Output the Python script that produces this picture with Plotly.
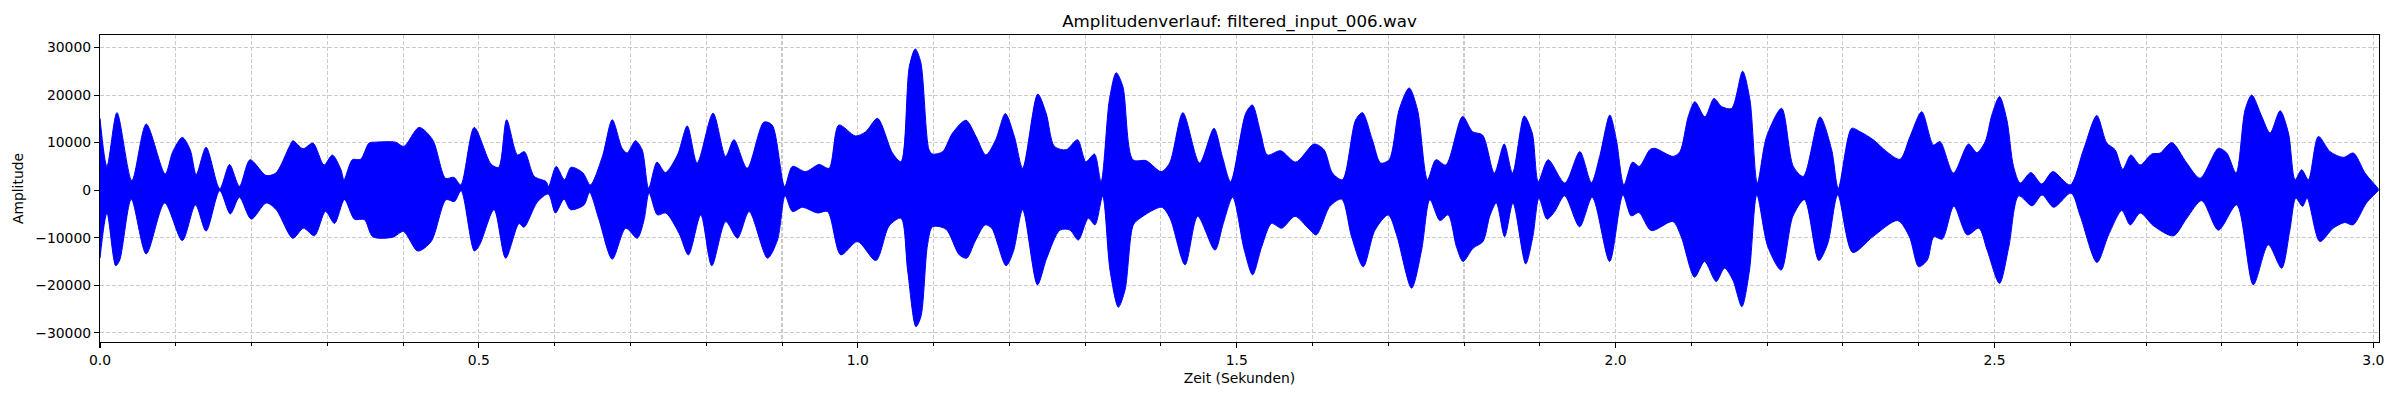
import plotly.graph_objects as go

# ---- data (envelope of the waveform) ----
upper_t = [0.000, 0.0092, 0.0224, 0.042, 0.061, 0.086, 0.096, 0.1086, 0.119, 0.127, 0.140, 0.158, 0.171, 0.184, 0.198,
           0.219, 0.232, 0.250, 0.2545, 0.268, 0.281, 0.2956, 0.3066, 0.318, 0.322, 0.333, 0.344, 0.355, 0.364, 0.390,
           0.401, 0.421, 0.439, 0.456, 0.467, 0.476, 0.4938, 0.516, 0.526, 0.5366, 0.551, 0.560, 0.573, 0.5886, 0.592,
           0.602, 0.613, 0.6216, 0.637, 0.647, 0.663, 0.676, 0.689, 0.6956, 0.7066, 0.7154, 0.724, 0.735, 0.746, 0.762,
           0.775, 0.788, 0.809, 0.8256, 0.8366, 0.854, 0.876, 0.887, 0.9035, 0.9137, 0.931, 0.949, 0.962, 0.975, 0.997,
           1.0106, 1.026, 1.0458, 1.057, 1.068, 1.0758, 1.083, 1.094, 1.0987, 1.112, 1.125, 1.1427, 1.156, 1.169, 1.182,
           1.1947, 1.2066, 1.2176, 1.2374, 1.2485, 1.2595, 1.275, 1.290, 1.301, 1.3123, 1.321, 1.332, 1.341, 1.3498,
           1.363, 1.3806, 1.4004, 1.4115, 1.429, 1.451, 1.470, 1.481, 1.492, 1.512, 1.5207, 1.5317, 1.5405, 1.558, 1.578,
           1.6021, 1.6153, 1.6263, 1.6395, 1.657, 1.666, 1.679, 1.690, 1.7012, 1.7143, 1.7276, 1.7386, 1.7518, 1.7628,
           1.776, 1.798, 1.8112, 1.8244, 1.840, 1.853, 1.864, 1.8794, 1.890, 1.898, 1.911, 1.933, 1.9528, 1.968, 1.979,
           1.9924, 2.001, 2.011, 2.0224, 2.0312, 2.0452, 2.0518, 2.076, 2.0849, 2.0959, 2.1047, 2.1179, 2.1298, 2.1399,
           2.1531, 2.1676, 2.1773, 2.187, 2.1993, 2.2191, 2.2345, 2.2477, 2.2697, 2.2851, 2.2939, 2.3115, 2.3225, 2.3401,
           2.3577, 2.3754, 2.3886, 2.404, 2.4194, 2.4282, 2.4458, 2.4657, 2.4767, 2.4877, 2.4965, 2.5066, 2.5163, 2.5251,
           2.5339, 2.548, 2.5624, 2.577, 2.5998, 2.6174, 2.635, 2.6482, 2.6592, 2.6693, 2.6799, 2.6922, 2.7076, 2.7186,
           2.734, 2.7537, 2.7713, 2.7955, 2.8065, 2.8188, 2.8307, 2.8395, 2.8527, 2.8637, 2.8769, 2.8879, 2.8967, 2.9054,
           2.9142, 2.9274, 2.9428, 2.9604, 2.9736, 2.989, 3.0066]
upper_amp = [15100, 5000, 16300, 2000, 13900, 3400, 8100, 11100, 8500, 3300, 9000, 300, 5400, 800, 6400,
             3100, 3600, 9200, 10400, 8700, 9900, 5300, 7400, 4300, 2200, 6400, 6500, 9900, 10100, 10100,
             9200, 13200, 10600, 2500, 2700, 1100, 13200, 5500, 4800, 14800, 7400, 8100, 2900, 1800, 800,
             5000, 2200, 4800, 3700, 1100, 7100, 14800, 8800, 7800, 10400, 8500, 400, 5900, 3700, 7400,
             13500, 5700, 16200, 7100, 10600, 4600, 14300, 13700, 800, 5000, 3900, 5400, 4600, 13700, 11400,
             12300, 15100, 7800, 6000, 26000, 29700, 27000, 8500, 7600, 8100, 12000, 14700, 11300, 7400, 10600,
             16100, 11300, 4600, 20200, 16200, 9200, 8500, 10600, 6000, 7600, 1800, 19000, 24700, 21800,
             6400, 6200, 3900, 5700, 16300, 5700, 13000, 7100, 1800, 16200, 17900, 12000, 7400, 8300, 5900,
             9700, 8500, 3600, 2200, 14800, 16300, 10600, 5700, 6400, 16900, 21500, 16900, 2200, 6400,
             5300, 15500, 12300, 11600, 3600, 9700, 3600, 15600, 12000, 1800, 6400, 1500, 8100, 1600, 7100,
             15800, 10600, 1100, 5900, 5000, 8500, 8800, 7100, 8100, 15500, 18600, 15400, 19300, 17600,
             17200, 25000, 19000, 1500, 11300, 17200, 5000, 2900, 15400, 8500, 400, 13000, 12300, 10600,
             8100, 6500, 11300, 16500, 9500, 10200, 3600, 9700, 7900, 10200, 15800, 19700, 14800, 5000,
             1500, 3700, 1300, 3900, 1100, 8500, 15700, 9900, 8500, 4400, 7400, 5300, 7600, 7800,
             10000, 5700, 2500, 8800, 7800, 3600, 16900, 20000, 15500, 12000, 16700, 12000, 2200, 4300,
             2200, 11300, 8100, 6900, 7800, 3600, 200]

lower_t = [0.000, 0.0092, 0.0207, 0.026, 0.0413, 0.061, 0.0853, 0.1086, 0.126, 0.140, 0.158, 0.172, 0.184, 0.1996,
           0.2193, 0.2325, 0.2545, 0.2686, 0.283, 0.2976, 0.3095, 0.3226, 0.3358, 0.349, 0.360, 0.3864, 0.4004, 0.4193,
           0.437, 0.4567, 0.4677, 0.4765, 0.494, 0.501, 0.520, 0.5353, 0.553, 0.5595, 0.5771, 0.5916, 0.601, 0.6123,
           0.621, 0.6387, 0.646, 0.6585, 0.676, 0.6938, 0.709, 0.718, 0.7246, 0.7356, 0.7466, 0.7642, 0.7765, 0.7928,
           0.8073, 0.8258, 0.8412, 0.8566, 0.8808, 0.894, 0.9041, 0.9138, 0.927, 0.9468, 0.960, 0.9776, 0.9996, 1.0238,
           1.0414, 1.0569, 1.0657, 1.0767, 1.0833, 1.092, 1.0987, 1.1163, 1.1339, 1.1437, 1.1547, 1.168, 1.1767, 1.1956,
           1.2053, 1.2176, 1.237, 1.2493, 1.2668, 1.280, 1.291, 1.3042, 1.313, 1.3231, 1.3328, 1.3438, 1.3526, 1.3636,
           1.3724, 1.401, 1.412, 1.4318, 1.4485, 1.4713, 1.4823, 1.4947, 1.510, 1.521, 1.533, 1.546, 1.5593, 1.577,
           1.5943, 1.605, 1.623, 1.6385, 1.6516, 1.667, 1.6825, 1.700, 1.711, 1.7308, 1.744, 1.755, 1.7682, 1.779,
           1.790, 1.7987, 1.8119, 1.825, 1.8339, 1.8426, 1.8536, 1.8646, 1.8813, 1.8908, 1.8989, 1.9095, 1.9196, 1.9327,
           1.9525, 1.9692, 1.9921, 2.0097, 2.0207, 2.0308, 2.047, 2.0756, 2.0866, 2.1042, 2.1174, 2.1327, 2.1437, 2.1547,
           2.1666, 2.1767, 2.1864, 2.2009, 2.2185, 2.2339, 2.2492, 2.2681, 2.280, 2.2932, 2.3129, 2.3393, 2.3723, 2.3877,
           2.400, 2.4113, 2.420, 2.431, 2.4464, 2.464, 2.4794, 2.4903, 2.5066, 2.5189, 2.532, 2.5496, 2.5628, 2.5781,
           2.601, 2.6133, 2.6352, 2.6506, 2.6681, 2.6791, 2.6923, 2.7098, 2.7362, 2.7537, 2.7735, 2.7954, 2.8196, 2.8415,
           2.8613, 2.8789, 2.8898, 2.8977, 2.9065, 2.9126, 2.9293, 2.9469, 2.9622, 2.9732, 2.9908, 3.0066]
lower_amp = [-14300, -4800, -15900, -14700, -1900, -13400, -2700, -10600, -3100, -8600, -100, -5000, -1500, -6100,
             -2700, -4100, -10100, -8000, -9600, -4500, -7000, -2000, -6100, -6200, -9800, -9900, -8700, -12800,
             -10800, -2000, -2400, -100, -12800, -11500, -4100, -14300, -7000, -7800, -2500, -800, -4800, -1900,
             -4100, -3100, -500, -6200, -14500, -8000, -10100, -6200, -600, -5200, -4800, -9100, -13600, -5200,
             -15900, -6600, -10100, -4500, -14300, -10500, -1200, -4500, -3600, -4800, -4500, -13600, -10800, -14800,
             -7500, -5900, -16800, -28700, -26600, -11500, -7700, -8200, -13600, -14300, -10800, -7300, -8000, -15900,
             -12900, -4100, -19900, -14300, -8400, -8400, -10500, -5900, -7300, -1300, -16800, -24600, -21000, -7300,
             -5900, -3600, -5900, -15700, -5500, -12600, -7000, -1500, -12600, -17800, -11900, -7000, -8000, -5500,
             -8000, -9400, -3400, -1900, -9800, -16100, -8400, -5200, -9400, -20600, -12600, -2000, -6400, -5200,
             -11900, -15000, -12200, -10800, -5500, -2700, -9800, -2700, -15500, -9800, -1700, -6100, -4500, -1200,
             -7700, -1500, -15000, -1000, -5400, -4700, -8500, -6600, -9800, -18300, -15000, -19200, -16400, -18900,
             -24500, -16800, -1000, -11900, -16800, -5500, -2000, -14800, -11200, -1000, -13100, -9800, -6400, -9800,
             -16100, -14700, -9800, -10300, -3400, -9400, -8000, -12600, -19600, -11900, -1200, -3300, -1000, -3600,
             -600, -5500, -15200, -9400, -4300, -7300, -4800, -7500, -9600, -5900, -2200, -8400, -3100, -19900,
             -11500, -16400, -8400, -1700, -3400, -1700, -10800, -8000, -6800, -7300, -2700, 0]

x_range = [0.0, 3.0074]
y_range = [-31930, 32630]
x_tick_vals = [0.0, 0.5, 1.0, 1.5, 2.0, 2.5, 3.0]
x_tick_text = ["0.0", "0.5", "1.0", "1.5", "2.0", "2.5", "3.0"]
y_tick_vals = [-30000, -20000, -10000, 0, 10000, 20000, 30000]
y_tick_text = ["\u221230000", "\u221220000", "\u221210000", "0", "10000", "20000", "30000"]

title_text = "Amplitudenverlauf: filtered_input_006.wav"
x_label = "Zeit (Sekunden)"
y_label = "Amplitude"

FONT = "DejaVu Sans, Verdana, sans-serif"
GRID = "#cbcbcb"
DASH = "4px,2px"

fig = go.Figure()
fig.add_trace(go.Scatter(
    x=upper_t + lower_t[::-1],
    y=upper_amp + lower_amp[::-1],
    mode="lines",
    fill="toself",
    fillcolor="#0000ff",
    line=dict(color="#0000ff", width=1, shape="spline", smoothing=0.8),
    hoverinfo="skip",
    showlegend=False,
))

axis_common = dict(
    showline=True, linecolor="black", linewidth=1.1, mirror=True,
    ticks="outside", ticklen=5, tickwidth=1.1, tickcolor="black",
    showgrid=True, gridcolor=GRID, gridwidth=1.1, griddash=DASH,
    zeroline=False,
    tickfont=dict(family=FONT, size=13.9, color="black"),
)

fig.update_layout(
    width=2400, height=400,
    margin=dict(l=100, r=21, t=35, b=58),
    paper_bgcolor="white", plot_bgcolor="white",
    font=dict(family=FONT, color="black"),
    title=dict(text=title_text, x=0.5, xref="paper", xanchor="center",
               y=1 - 21 / 400, yref="container", yanchor="middle",
               font=dict(family=FONT, size=16.7, color="black")),
    xaxis=dict(
        range=x_range, tickmode="array", tickvals=x_tick_vals, ticktext=x_tick_text,
        title=dict(text=x_label, font=dict(family=FONT, size=13.9, color="black"), standoff=6),
        minor=dict(dtick=0.1, tick0=0, ticks="outside", ticklen=3, tickwidth=1, tickcolor="black",
                   showgrid=True, gridcolor=GRID, gridwidth=1.1, griddash=DASH),
        **axis_common,
    ),
    yaxis=dict(
        range=y_range, tickmode="array", tickvals=y_tick_vals, ticktext=y_tick_text,
        title=dict(text=y_label, font=dict(family=FONT, size=13.9, color="black"), standoff=8),
        **axis_common,
    ),
)

fig.write_html(
    "out.html",
    config={"displayModeBar": False, "staticPlot": True},
    post_script="document.body.style.margin='0';document.body.style.padding='0';",
)
